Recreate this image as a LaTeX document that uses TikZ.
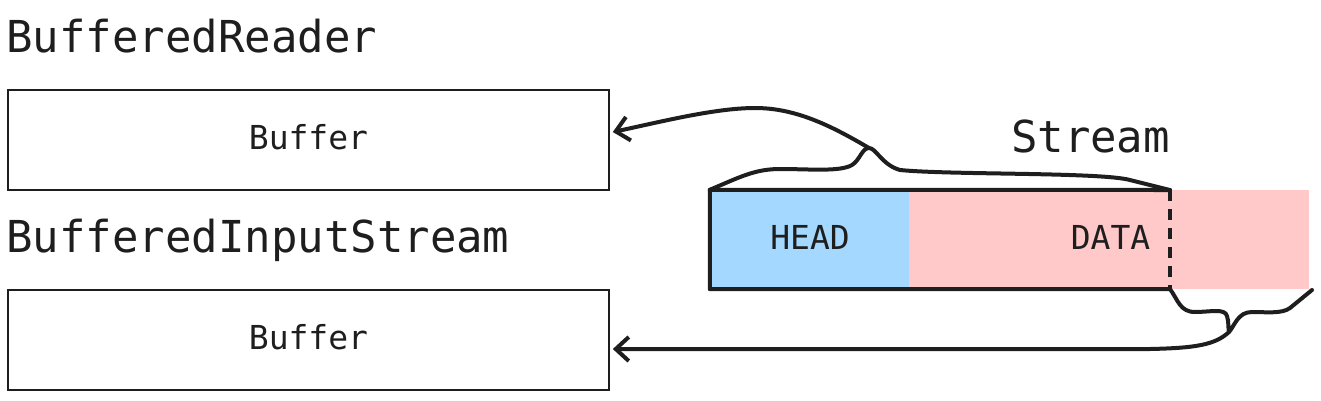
\documentclass[tikz,border=0pt]{standalone}
\usepackage{fontspec}
\newfontfamily\mono{DejaVu Sans Mono}
\usetikzlibrary{arrows.meta,calc}
\definecolor{ink}{HTML}{1E1E1E}
\definecolor{headblue}{HTML}{A5D8FF}
\definecolor{datapink}{HTML}{FFC9C9}
\tikzset{
  big/.style={font=\mono\fontsize{44}{50}\selectfont, text=ink, inner sep=0pt},
  small/.style={font=\mono\fontsize{33}{38}\selectfont, text=ink, inner sep=0pt},
  bufbox/.style={draw=ink, line width=1.6pt, minimum width=601pt, minimum height=100pt, inner sep=0pt},
  thick line/.style={draw=ink, line width=4pt, line cap=round, line join=round},
  arr/.style={thick line, -{Straight Barb[length=13pt,width=24pt]}},
}
\begin{document}
\begin{tikzpicture}[x=1pt,y=-1pt]
\useasboundingbox (0,0) rectangle (1321,400);
% labels
\node[big, anchor=base west] (lblR) at (6,52) {BufferedReader};
\node[big, anchor=base west] (lblI) at (6,252) {BufferedInputStream};
\node[big, anchor=base] (lblS) at (1090.5,152) {Stream};
% buffer boxes
\node[bufbox] (box1) at (308.5,140) {};
\node[small, anchor=base] (buf1) at (308.5,149) {Buffer};
\node[bufbox] (box2) at (308.5,340) {};
\node[small, anchor=base] (buf2) at (308.5,349) {Buffer};
% stream segments
\node[fill=headblue, minimum width=199pt, minimum height=99pt, inner sep=0pt] (head) at (809.5,239.5) {};
\node[fill=datapink, minimum width=400pt, minimum height=99pt, inner sep=0pt] (data) at (1109,239.5) {};
\node[small, anchor=base] (headt) at (810,249) {HEAD};
\node[small, anchor=base] (datat) at (1110.5,249) {DATA};
\coordinate (sTR) at (1170,190);
\coordinate (sBR) at (1170,289);
\draw[thick line] (sTR) -- (head.north west) -- (head.south west) -- (sBR);
\draw[draw=ink, line width=4pt, dash pattern=on 11pt off 8pt] (sTR) -- (sBR);
% top brace
\coordinate (tb) at (869,148);
\draw[thick line] (head.north west) .. controls (740,177) and (755,169) .. (780,169)
  .. controls (810,169) and (840,172) .. (852,165)
  .. controls (860,160) and (862,148) .. (tb)
  .. controls (876,148) and (882,165) .. (900,170)
  .. controls (950,175) and (1100,172) .. (1130,180) -- (sTR);
% bottom brace
\coordinate (bb) at (1229,332);
\coordinate (pBR) at (1312,290);
\draw[thick line] (sBR) .. controls (1178,300) and (1180,312) .. (1195,312)
  .. controls (1210,312) and (1225,308) .. (1227,316)
  .. controls (1229,322) and (1228,330) .. (bb)
  .. controls (1235,325) and (1238,312) .. (1252,312)
  .. controls (1266,312) and (1282,314) .. (1290,308) -- (pBR);
% arrows
\draw[arr] (tb) .. controls (830,125) and (795,108) .. (755,108)
  .. controls (715,108) and (660,122) .. ($(box1.east)+(3,-8)$);
\draw[arr] (bb) .. controls (1215,345) and (1195,348) .. (1150,349) -- ($(box2.east)+(3,9)$);
\end{tikzpicture}
\end{document}
